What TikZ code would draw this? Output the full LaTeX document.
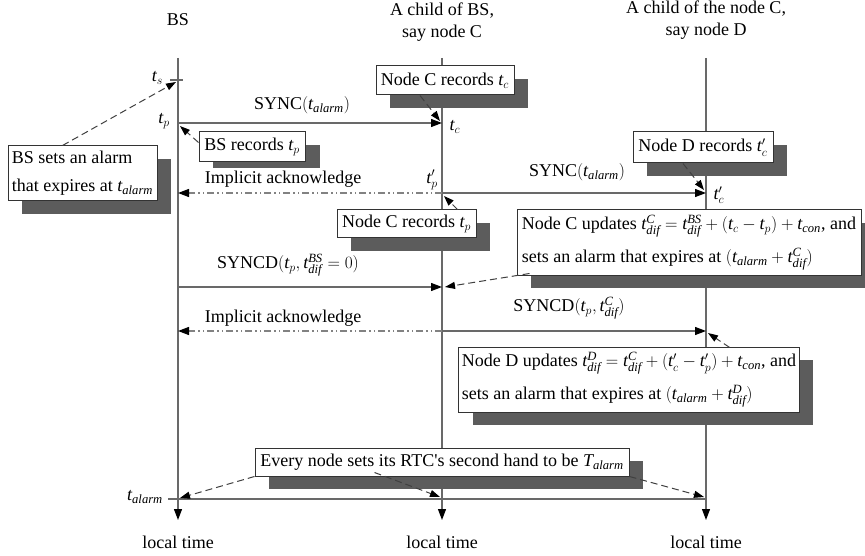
\documentclass[tikz,border=0pt]{standalone}
\usepackage{fontspec}
\setmainfont{Liberation Serif}
\usetikzlibrary{arrows.meta,shadows,calc}
\definecolor{lg}{RGB}{105,105,105}
\definecolor{ag}{RGB}{130,130,130}
\definecolor{shg}{RGB}{92,92,92}
\newcommand{\Tm}[1]{\mathit{t}_{\mathit{#1}}}
\newcommand{\Td}[1]{\mathit{t}^{\mathit{#1}}_{\mathit{dif}}}
\newcommand{\fs}{\fontsize{18}{22}\selectfont}
\begin{document}
\begin{tikzpicture}[x=1pt,y=-1pt, font=\fs,
  tl/.style={line width=1.2pt, draw=lg},
  tip/.style={-{Triangle[length=11pt,width=8pt,color=black]}},
  msg/.style={line width=1.2pt, draw=lg, tip},
  ack/.style={line width=1.2pt, draw=ag, dash pattern=on 7pt off 3pt on 1.5pt off 3pt on 1.5pt off 3pt, tip},
  note/.style={line width=1pt, draw=black!75, dash pattern=on 7pt off 4pt, -{Triangle[length=10pt,width=7pt,color=black]}},
  plainbox/.style={draw=black!80, line width=1pt, fill=white, inner sep=3pt},
  box/.style={plainbox,
    drop shadow={shadow xshift=14pt, shadow yshift=-13pt, opacity=1, fill=shg}},
  lbl/.style={inner sep=1pt},
]
\useasboundingbox (0,0) rectangle (865,556);

% timelines
\coordinate (bsT) at (178,58); \coordinate (bsB) at (178,520);
\coordinate (cT) at (442,58);  \coordinate (cB) at (442,520);
\coordinate (dT) at (706,58);  \coordinate (dB) at (706,520);
\draw[tl, tip] (bsT) -- (bsB);
\draw[tl, tip] (cT) -- (cB);
\draw[tl, tip] (dT) -- (dB);

% headers
\node[lbl] (hBS) at (178,20) {BS};
\node[lbl, align=center] (hC) at (442,22) {A child of BS,\\say node C};
\node[lbl, align=center] (hD) at (706,20) {A child of the node C,\\say node D};
\node[lbl] (lt1) at (178,542) {local time};
\node[lbl] (lt2) at (442,542) {local time};
\node[lbl] (lt3) at (706,542) {local time};

% t_s tick
\coordinate (tsL) at (170,80); \coordinate (tsR) at (183,80);
\draw[tl] (tsL) -- (tsR);
\node[lbl, anchor=east] (ts) at (164,78) {$\mathit{t}_s$};
\coordinate (tsTip) at (176,82);

% BS alarm box
\node[box, font=\fontsize{18}{28}\selectfont, minimum width=149pt, minimum height=55pt, align=left] (alarmBS) at (82.5,173.5) {BS sets an alarm\\that expires at $\Tm{alarm}$};
\draw[note] ($(alarmBS.north west)+(55,0)$) -- (tsTip);

% SYNC BS -> C
\coordinate (bs1) at (178,123); \coordinate (c1) at (442,123);
\draw[msg] (bs1) -- (c1);
\node[lbl] (sync1) at (302,105) {SYNC$(\Tm{alarm})$};
\node[lbl, anchor=east] (tp) at (171,121) {$\mathit{t}_p$};
\node[lbl] (tc) at (455,127) {$\mathit{t}_c$};

% BS records (shorter shadow, as in the reference)
\fill[shg] (213,145) rectangle (320,168);
\node[plainbox, minimum width=106pt, minimum height=30pt] (bsrec) at (252,147) {BS records $\mathit{t}_p$};
\coordinate (bsp) at (180,126);
\draw[note] ($(bsrec.north west)+(0,11)$) -- (bsp);

% Node C records t_c
\node[box, minimum width=138pt, minimum height=29pt] (crec1) at (445,80.5) {Node C records $\mathit{t}_c$};
\coordinate (ctc) at (440,121);
\draw[note] ($(crec1.south)+(-25,0)$) -- (ctc);

% Implicit ack 1 and SYNC C -> D
\coordinate (c2) at (442,193); \coordinate (bs2) at (178,193); \coordinate (d2) at (706,193);
\draw[ack] (c2) -- (bs2);
\draw[msg] (c2) -- (d2);
\node[lbl] (ia1) at (283,179) {Implicit acknowledge};
\node[lbl] (tpp) at (432,180) {$\mathit{t}'_p$};
\node[lbl] (sync2) at (577,172) {SYNC$(\Tm{alarm})$};
\node[lbl] (tcp) at (719,195) {$\mathit{t}'_c$};

% Node D records
\node[box, minimum width=140pt, minimum height=31pt] (drec) at (703,147.5) {Node D records $\mathit{t}'_c$};
\coordinate (dtc) at (704,190);
\draw[note] ($(drec.south)+(-20,0)$) -- (dtc);

% Node C records t_p
\node[box, minimum width=139pt, minimum height=28pt] (crec2) at (406.5,224) {Node C records $\mathit{t}_p$};
\coordinate (ctp) at (444,196);
\draw[note] ($(crec2.north east)+(-19,0)$) -- (ctp);

% Node C updates
\node[box, font=\fontsize{18}{33}\selectfont, minimum width=344pt, minimum height=65pt, align=left] (cupd) at (689,242.5)
  {Node C updates $\Td{C} = \Td{BS} + (\mathit{t}_c - \mathit{t}_p) + \Tm{con}$, and\\sets an alarm that expires at $(\Tm{alarm} + \Td{C})$};
\coordinate (cup) at (445,287);
\draw[note] ($(cupd.south west)+(13,-2)$) -- (cup);

% SYNCD BS -> C
\coordinate (bs3) at (178,287); \coordinate (c3) at (442,287);
\draw[msg] (bs3) -- (c3);
\node[lbl] (syncd1) at (288,265) {SYNCD$(\mathit{t}_p, \Td{BS} = 0)$};

% Implicit ack 2 and SYNCD C -> D
\coordinate (c4) at (442,331); \coordinate (bs4) at (178,331); \coordinate (d4) at (706,331);
\draw[ack] (c4) -- (bs4);
\draw[msg] (c4) -- (d4);
\node[lbl] (ia2) at (283,318) {Implicit acknowledge};
\node[lbl] (syncd2) at (569,308) {SYNCD$(\mathit{t}_p, \Td{C})$};

% Node D updates
\node[box, font=\fontsize{18}{33}\selectfont, minimum width=338pt, minimum height=65pt, align=left] (dupd) at (629,379.5)
  {Node D updates $\Td{D} = \Td{C} + (\mathit{t}'_c - \mathit{t}'_p) + \Tm{con}$, and\\sets an alarm that expires at $(\Tm{alarm} + \Td{D})$};
\coordinate (dup) at (708,333);
\draw[note] ($(dupd.north east)+(-70,1)$) -- (dup);

% t_alarm
\coordinate (ta0) at (168,499); \coordinate (ta1) at (706,499);
\draw[tl] (ta0) -- (ta1);
\node[lbl, anchor=east] (tal) at (164,497) {$\Tm{alarm}$};

% Every node box
\node[box, minimum width=374pt, minimum height=28pt] (every) at (442,462) {Every node sets its RTC\textquotesingle s second hand to be $\mathit{T}_{\mathit{alarm}}$};
\coordinate (eA) at (180,498); \coordinate (eB) at (440,497); \coordinate (eC) at (704,497);
\draw[note] (every.south west) -- (eA);
\draw[note] ($(every.south west)+(120,-4)$) -- (eB);
\draw[note] (every.south east) -- (eC);
\end{tikzpicture}
\end{document}
